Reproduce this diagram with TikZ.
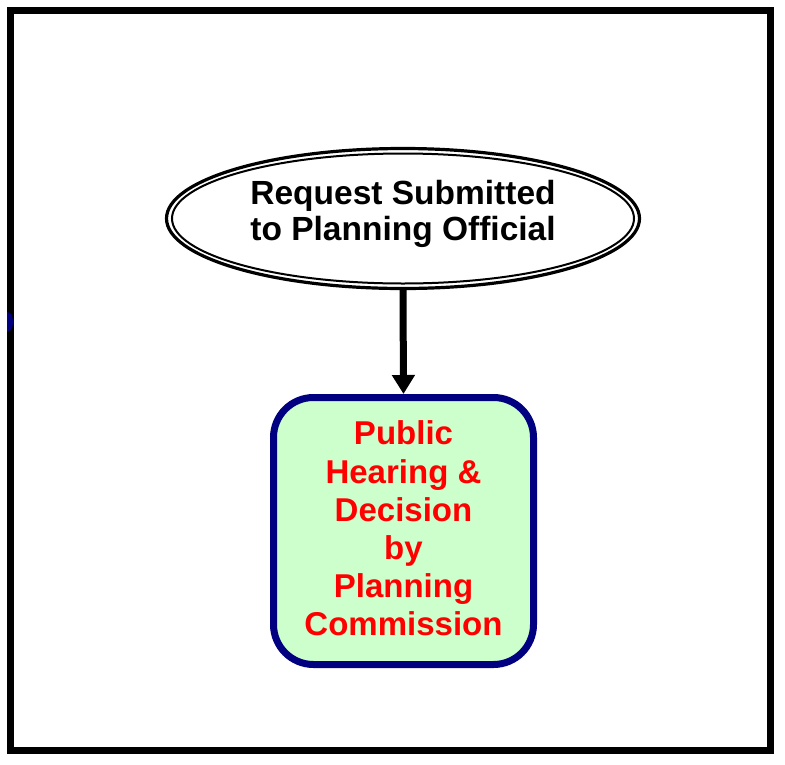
\documentclass[tikz,border=0pt]{standalone}
\usepackage{fontspec}
\setmainfont{Liberation Sans}
\usetikzlibrary{shapes.geometric,arrows.meta}
\definecolor{navyb}{RGB}{0,0,128}
\definecolor{palegreen}{RGB}{204,255,204}
\definecolor{redtxt}{RGB}{255,0,0}
\tikzset{
  startell/.style={ellipse, draw=black, line width=3.2pt, fill=white,
    minimum width=473pt, minimum height=140pt, inner sep=0pt},
  innerell/.style={draw=black, line width=2pt},
  ellitext/.style={align=center, font=\fontsize{33.5}{36}\selectfont\bfseries, text=black, inner sep=0pt},
  decbox/.style={draw=navyb, fill=palegreen, line width=7pt, rounded corners=40pt,
    minimum width=260pt, minimum height=267pt, inner sep=0pt},
  boxtext/.style={align=center, font=\fontsize{33}{38.2}\selectfont\bfseries, text=redtxt, inner sep=0pt},
  flowarrow/.style={line width=7pt, -{Triangle[width=22pt,length=19pt]}}
}
\begin{document}
\begin{tikzpicture}[x=1pt,y=-1pt]
\useasboundingbox (0,0) rectangle (785,764);
\fill[white] (0,0) rectangle (785,764);
% outer frame
\draw[line width=7pt] (10.5,10.5) rectangle (770,750.5);
% small blue mark on left border
\fill[navyb] (7,312) .. controls (15,312) and (15,332) .. (7,332) -- cycle;
% ellipse (double outline: thick outer, thin inner)
\node[startell] (req) at (403,218.5) {};
\draw[innerell] (req.center) ellipse (231pt and 65pt);
\node[ellitext] (reqtext) at (403,214) {Request Submitted\\to Planning Official};
% decision box
\node[decbox] (hear) at (403.5,531) {};
\node[boxtext] (heartext) at (403.5,528.5) {Public\\Hearing \&\\Decision\\by\\Planning\\Commission};
% arrow
\draw[flowarrow] (req.south) -- (hear.north);
\end{tikzpicture}
\end{document}
